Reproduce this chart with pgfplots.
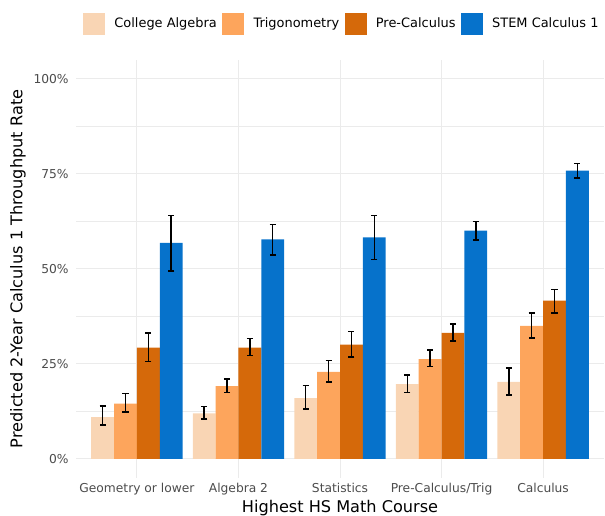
\documentclass[border=0pt]{standalone}
\usepackage{pgfplots}
\pgfplotsset{compat=1.18}
\usepackage{fontspec}
\setmainfont{DejaVu Sans}
\definecolor{cAlg}{HTML}{F9D5B4}
\definecolor{cTrig}{HTML}{FDA55C}
\definecolor{cPre}{HTML}{D5690A}
\definecolor{cStem}{HTML}{0672CB}
\definecolor{gridc}{HTML}{EBEBEB}
\pgfplotsset{
  errs/.style={forget plot, draw=none, mark=none,
    error bars/.cd, y dir=both, y explicit,
    error bar style={line width=1.1pt, draw=black, solid},
    error mark options={rotate=90, draw=black, line width=1.1pt, mark size=2.3pt}},
}
\begin{document}
\begin{tikzpicture}
\useasboundingbox (-57pt,-28.5pt) rectangle (396.75pt,358.5pt);
\begin{axis}[
  scale only axis, width=396pt, height=313.5pt,
  xmin=-0.6, xmax=4.6, ymin=-5, ymax=105,
  xtick={0,1,2,3,4},
  xticklabels={Geometry or lower, Algebra 2, Statistics, Pre-Calculus/Trig, Calculus},
  ytick={0,25,50,75,100},
  yticklabels={0\%,25\%,50\%,75\%,100\%},
  minor ytick={12.5,37.5,62.5,87.5},
  grid=both,
  major grid style={draw=gridc, line width=0.75pt},
  minor grid style={draw=gridc, line width=0.4pt},
  axis line style={draw=none},
  major tick length=0pt, minor tick length=0pt,
  tick label style={font=\fontsize{9.2}{10}\selectfont, text=black!70},
  yticklabel style={xshift=-2pt},
  xlabel={Highest HS Math Course},
  ylabel={Predicted 2-Year Calculus 1 Throughput Rate},
  every axis x label/.style={at={(axis description cs:0.5,-0.0718)}, anchor=center,
    font=\fontsize{12.1}{14}\selectfont},
  every axis y label/.style={at={(axis description cs:-0.1098,0.5)}, anchor=center, rotate=90,
    font=\fontsize{12.1}{14}\selectfont},
  legend columns=-1,
  legend image code/.code={\fill[#1] (0pt,-8.25pt) rectangle (16.5pt,8.25pt);},
  legend style={at={(axis description cs:0.504,1.086)}, anchor=center, draw=none, fill=none,
    font=\fontsize{9.7}{11}\selectfont,
    /tikz/every odd column/.append style={column sep=5pt},
    /tikz/every even column/.append style={column sep=2pt}},
]
\addplot[ybar, bar width=0.225, bar shift=-0.3375, fill=cAlg, draw=none]
coordinates {(0,11.0) (1,12.0) (2,16.0) (3,19.7) (4,20.3)};
\addlegendentry{College Algebra}
\addplot[ybar, bar width=0.225, bar shift=-0.1125, fill=cTrig, draw=none]
coordinates {(0,14.6) (1,19.2) (2,22.9) (3,26.3) (4,35.0)};
\addlegendentry{Trigonometry}
\addplot[ybar, bar width=0.225, bar shift=0.1125, fill=cPre, draw=none]
coordinates {(0,29.3) (1,29.3) (2,30.1) (3,33.2) (4,41.7)};
\addlegendentry{Pre-Calculus}
\addplot[ybar, bar width=0.225, bar shift=0.3375, fill=cStem, draw=none]
coordinates {(0,56.9) (1,57.8) (2,58.3) (3,60.1) (4,75.9)};
\addlegendentry{STEM Calculus 1}
% error bars (x = category + dodge offset)
\addplot[errs] coordinates {
  (-0.3375,11.0) += (0,3.0) -= (0,2.1)
  (0.6625,12.0) += (0,1.8) -= (0,1.5)
  (1.6625,16.0) += (0,3.3) -= (0,2.8)
  (2.6625,19.7) += (0,2.4) -= (0,2.2)
  (3.6625,20.3) += (0,3.7) -= (0,3.4)
};
\addplot[errs] coordinates {
  (-0.1125,14.6) += (0,2.7) -= (0,2.2)
  (0.8875,19.2) += (0,1.8) -= (0,1.7)
  (1.8875,22.9) += (0,3.0) -= (0,2.6)
  (2.8875,26.3) += (0,2.4) -= (0,2.0)
  (3.8875,35.0) += (0,3.4) -= (0,3.2)
};
\addplot[errs] coordinates {
  (0.1125,29.3) += (0,3.8) -= (0,3.6)
  (1.1125,29.3) += (0,2.4) -= (0,2.1)
  (2.1125,30.1) += (0,3.5) -= (0,3.2)
  (3.1125,33.2) += (0,2.3) -= (0,2.1)
  (4.1125,41.7) += (0,2.9) -= (0,3.3)
};
\addplot[errs] coordinates {
  (0.3375,56.9) += (0,7.2) -= (0,7.4)
  (1.3375,57.8) += (0,3.9) -= (0,4.1)
  (2.3375,58.3) += (0,5.8) -= (0,5.8)
  (3.3375,60.1) += (0,2.4) -= (0,2.5)
  (4.3375,75.9) += (0,1.9) -= (0,2.0)
};
\end{axis}
\end{tikzpicture}
\end{document}
